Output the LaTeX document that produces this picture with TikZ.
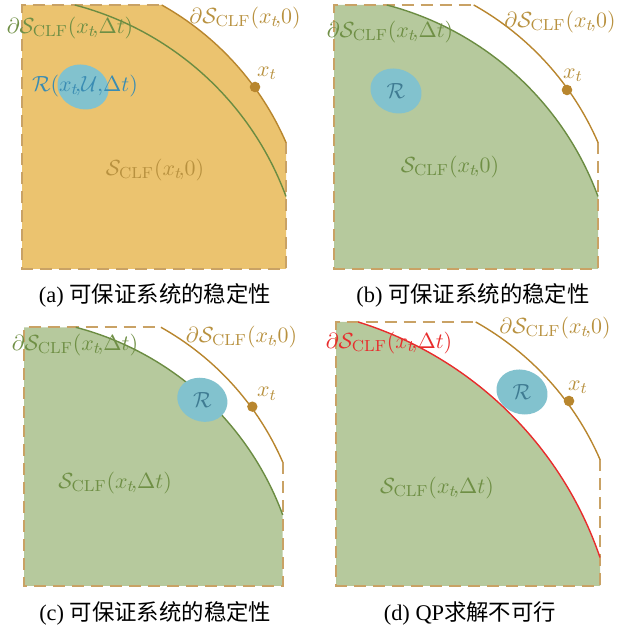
\documentclass[tikz,border=0pt]{standalone}
\usepackage{amsmath}
\usepackage[no-math]{fontspec}
\setmainfont{Liberation Serif}
\newfontfamily\cjk{Noto Sans CJK SC}
\usepackage{xcolor}
\usepackage{tikz}
\definecolor{clforange}{HTML}{EBC36F}
\definecolor{clfgreen}{HTML}{B6C99D}
\definecolor{clfbrown}{HTML}{B8862E}
\definecolor{clfdash}{HTML}{C9A265}
\definecolor{clfline}{HTML}{6B8C42}
\definecolor{clfgtext}{HTML}{6F8F45}
\definecolor{clfttext}{HTML}{B8913F}
\definecolor{reachfill}{HTML}{82C2CE}
\definecolor{reachtext}{HTML}{3A8CB3}
\definecolor{reachdark}{HTML}{3F7B92}
\definecolor{infeasred}{HTML}{E82C2C}
\newcommand{\tcomma}{\!{,}}
\tikzset{
  lbl/.style       = {inner sep=0pt, font=\fontsize{11}{13}\selectfont},
  capt/.style      = {inner sep=0pt, font=\fontsize{11.2}{13}\selectfont},
  boxline/.style   = {draw=clfdash, line width=1pt, dash pattern=on 6pt off 3.5pt},
  outerline/.style = {draw=clfbrown, line width=0.7pt},
  innerline/.style = {draw=clfline, line width=0.7pt},
  reach/.style     = {fill=reachfill},
  statedot/.style  = {fill=clfbrown}
}

\begin{document}
\begin{tikzpicture}[x=0.5pt, y=0.5pt]
  \useasboundingbox (0,0) rectangle (624,630);
  % (a)
  \begin{scope}[shift={(22,361)}]
    \fill[clforange] (0,0) -- (0,264) -- (139.7,264) arc[start angle=60.75, end angle=23.47, radius=290] -- (264,0) -- cycle;
    \draw[boxline] (264,126.5) -- (264,0) -- (0,0) -- (0,264) -- (139.7,264);
    \draw[outerline] (139.7,264) arc[start angle=60.75, end angle=23.47, radius=290];
    \draw[innerline] (52.8,264) arc[start angle=75.37, end angle=20.23, radius=308];
    \fill[reach, rotate around={-20:(61,182)}] (61,182) ellipse[x radius=26, y radius=22];
    \fill[statedot] (233,182) circle[radius=5.3];
    \node[lbl, text=clfgtext] (da) at (48,241) {$\partial\mathcal{S}_{\mathrm{CLF}}(x_t\tcomma\Delta t)$};
    \node[lbl, text=clfttext] (za) at (223,251) {$\partial\mathcal{S}_{\mathrm{CLF}}(x_t\tcomma 0)$};
    \node[lbl, text=clfttext] (xa) at (245,196) {$x_t$};
    \node[lbl, text=reachtext] (ra) at (63,183) {$\mathcal{R}(x_t\tcomma\mathcal{U}{,}\Delta t)$};
    \node[lbl, text=clfttext] (sa) at (133,99) {$\mathcal{S}_{\mathrm{CLF}}(x_t\tcomma 0)$};
    \node[capt] (ca) at (133,-26) {(a) {\cjk 可保证系统的稳定性}};
  \end{scope}
  % (b)
  \begin{scope}[shift={(334,361)}]
    \fill[clfgreen] (0,0) -- (0,264) -- (52.8,264) arc[start angle=75.37, end angle=20.23, radius=308] -- (264,0) -- cycle;
    \draw[boxline] (264,126.5) -- (264,0) -- (0,0) -- (0,264) -- (139.7,264);
    \draw[outerline] (139.7,264) arc[start angle=60.75, end angle=23.47, radius=290];
    \draw[innerline] (52.8,264) arc[start angle=75.37, end angle=20.23, radius=308];
    \fill[reach, rotate around={-20:(62,178)}] (62,178) ellipse[x radius=26, y radius=22];
    \fill[statedot] (233,179) circle[radius=5.3];
    \node[lbl, text=clfgtext] (db) at (56,237) {$\partial\mathcal{S}_{\mathrm{CLF}}(x_t\tcomma\Delta t)$};
    \node[lbl, text=clfttext] (zb) at (226,247) {$\partial\mathcal{S}_{\mathrm{CLF}}(x_t\tcomma 0)$};
    \node[lbl, text=clfttext] (xb) at (239,194) {$x_t$};
    \node[lbl, text=reachdark] (rb) at (62,178) {$\mathcal{R}$};
    \node[lbl, text=clfgtext] (sb) at (116,102) {$\mathcal{S}_{\mathrm{CLF}}(x_t\tcomma 0)$};
    \node[capt] (cb) at (139,-26) {(b) {\cjk 可保证系统的稳定性}};
  \end{scope}
  % (c)
  \begin{scope}[shift={(24,44)}, scale=0.98]
    \fill[clfgreen] (0,0) -- (0,264) -- (52.8,264) arc[start angle=75.37, end angle=20.23, radius=308] -- (264,0) -- cycle;
    \draw[boxline] (264,126.5) -- (264,0) -- (0,0) -- (0,264) -- (139.7,264);
    \draw[outerline] (139.7,264) arc[start angle=60.75, end angle=23.47, radius=290];
    \draw[innerline] (52.8,264) arc[start angle=75.37, end angle=20.23, radius=308];
    \fill[reach, rotate around={-20:(182,190)}] (182,190) ellipse[x radius=26, y radius=22];
    \fill[statedot] (233,183) circle[radius=5.3];
    \node[lbl, text=clfgtext] (dc) at (52,246) {$\partial\mathcal{S}_{\mathrm{CLF}}(x_t\tcomma\Delta t)$};
    \node[lbl, text=clfttext] (zc) at (222,254) {$\partial\mathcal{S}_{\mathrm{CLF}}(x_t\tcomma 0)$};
    \node[lbl, text=clfttext] (xc) at (248,196) {$x_t$};
    \node[lbl, text=reachdark] (rc) at (182,190) {$\mathcal{R}$};
    \node[lbl, text=clfgtext] (sc) at (93,105) {$\mathcal{S}_{\mathrm{CLF}}(x_t\tcomma\Delta t)$};
    \node[capt] (cc) at (134,-28) {(c) {\cjk 可保证系统的稳定性}};
  \end{scope}
  % (d)
  \begin{scope}[shift={(336,44)}]
    \fill[clfgreen] (0,0) -- (0,264) -- (22.3,264) arc[start angle=72.64, end angle=18.85, radius=373] -- (264,0) -- cycle;
    \draw[boxline] (264,126.5) -- (264,0) -- (0,0) -- (0,264) -- (139.7,264);
    \draw[outerline] (139.7,264) arc[start angle=60.75, end angle=23.47, radius=290];
    \draw[infeasred, line width=0.7pt] (22.3,264) arc[start angle=72.64, end angle=18.85, radius=373];
    \fill[reach, rotate around={-20:(186,194)}] (186,194) ellipse[x radius=26, y radius=22];
    \fill[statedot] (233,185) circle[radius=5.3];
    \node[lbl, text=infeasred] (dd) at (53,243) {$\partial\mathcal{S}_{\mathrm{CLF}}(x_t\tcomma\Delta t)$};
    \node[lbl, text=clfttext] (zd) at (219,258) {$\partial\mathcal{S}_{\mathrm{CLF}}(x_t\tcomma 0)$};
    \node[lbl, text=clfttext] (xd) at (242,199) {$x_t$};
    \node[lbl, text=reachdark] (rd) at (186,194) {$\mathcal{R}$};
    \node[lbl, text=clfgtext] (sd) at (101,98) {$\mathcal{S}_{\mathrm{CLF}}(x_t\tcomma\Delta t)$};
    \node[capt] (cd) at (134,-27) {(d) QP{\cjk 求解不可行}};
  \end{scope}
\end{tikzpicture}
\end{document}
